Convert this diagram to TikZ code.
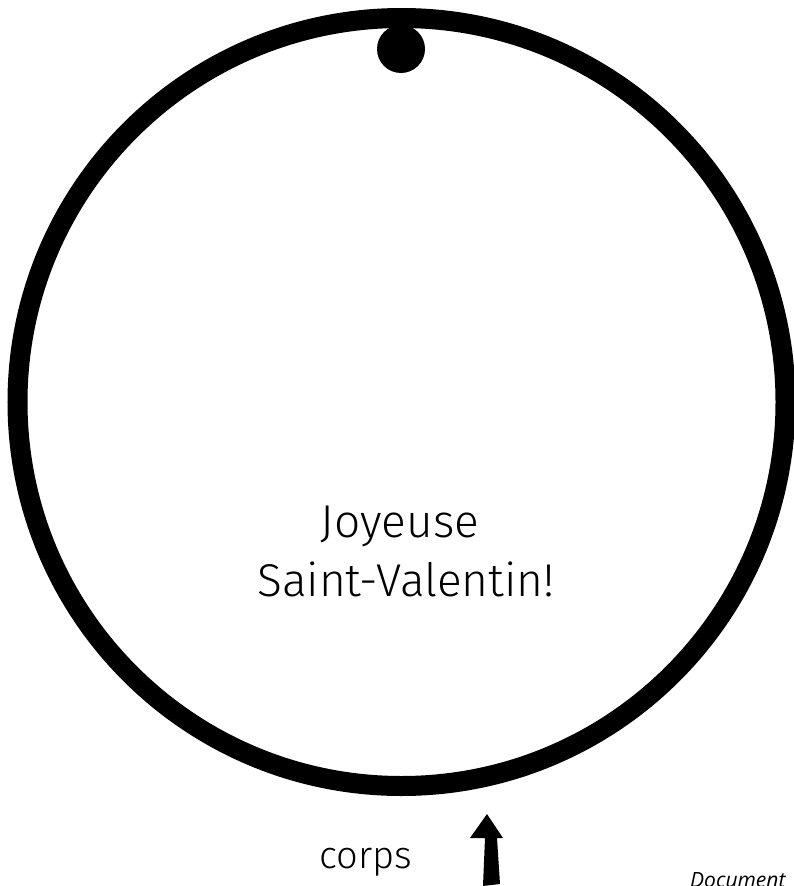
\documentclass[tikz,border=0pt]{standalone}
\usepackage{fontspec}
\setmainfont{Fira Sans Light}
\newfontfamily\notefont{Open Sans}
\begin{document}
\begin{tikzpicture}[x=1pt,y=-1pt,
  ring/.style={draw=black,line width=20pt},
  label/.style={inner sep=0pt,font=\fontsize{46}{50}\selectfont},
  small/.style={inner sep=0pt,font=\fontsize{38}{42}\selectfont},
  note/.style={inner sep=0pt,anchor=base west,font=\notefont\itshape\fontsize{21}{24}\selectfont}]
\useasboundingbox (0,0) rectangle (794,886);
\clip (0,0) rectangle (794,886);
\draw[ring] (401.5,402) circle (384);
\fill (401,49) circle (24);
\node[label,anchor=base] (j) at (400,537) {Joyeuse};
\node[label,anchor=base] (s) at (406,596) {Saint-Valentin!};
\node[small,anchor=base] (c) at (366,868) {corps};
\coordinate (atip) at (487,814);
\fill (atip) -- (503,838) -- (497,838) -- (500,884) -- (483,886) -- (485,838) -- (470,838) -- cycle;
\node[note] (d) at (690,887) {Document};
\end{tikzpicture}
\end{document}
